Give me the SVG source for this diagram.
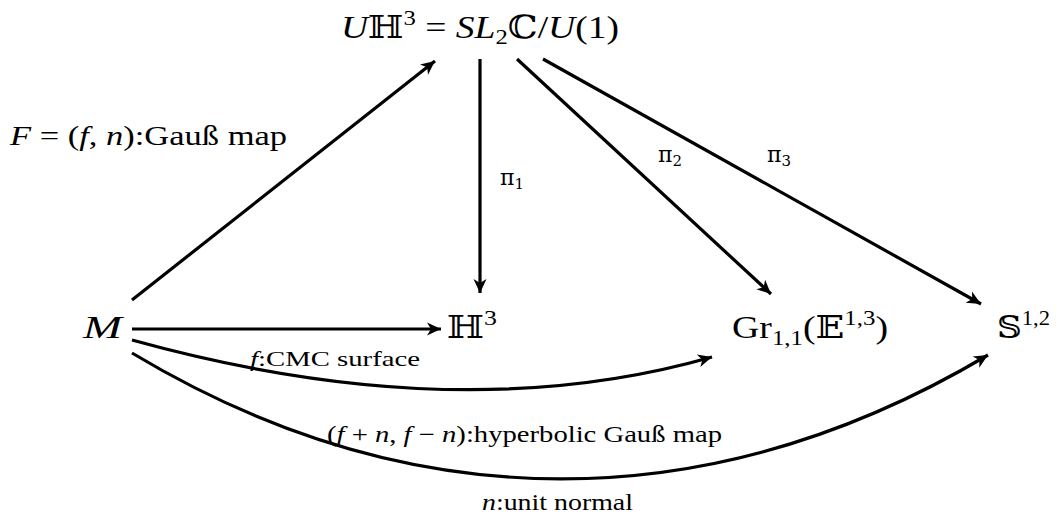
<svg xmlns="http://www.w3.org/2000/svg" width="1056" height="519" viewBox="0 0 1056 519">
<style>
text{font-family:"Liberation Serif","DejaVu Serif","DejaVu Sans",serif;fill:#000}
.it{font-style:italic}
.bb{font-family:"DejaVu Serif","DejaVu Sans",serif;font-style:normal}
.big{font-size:32px}
.pi{font-family:"DejaVu Serif",serif;font-size:22px}
.edge{fill:none;stroke:#000;stroke-width:3.2;marker-end:url(#ah)}
</style>
<defs>
<marker id="ah" markerUnits="userSpaceOnUse" markerWidth="20" markerHeight="20" refX="2" refY="0" viewBox="-14 -8 20 16" orient="auto" overflow="visible">
<path d="M2,0 L-12,-6.5 L-8,0 L-12,6.5 Z" fill="#000"/>
</marker>
</defs>
<g id="connectors">
<path class="edge" d="M132,300 L435,61"/>
<path class="edge" d="M480,59 L480,293"/>
<path class="edge" d="M517,59 L771,294"/>
<path class="edge" d="M543,59 L981,304"/>
<path class="edge" d="M132,329 L441,329"/>
<path class="edge" d="M132,340 Q457,430 712,357"/>
<path class="edge" d="M132,353 C412,521 710,520 988,355"/>
</g>
<g id="node-UH3">
<text class="big" x="341" y="38" textLength="278" lengthAdjust="spacingAndGlyphs"><tspan class="it">U</tspan><tspan class="bb">ℍ</tspan><tspan font-size="21" dy="-13">3</tspan><tspan dy="13"> = </tspan><tspan class="it">SL</tspan><tspan font-size="21" dy="6">2</tspan><tspan class="bb" dy="-6">ℂ</tspan><tspan>/</tspan><tspan class="it">U</tspan><tspan>(1)</tspan></text>
</g>
<g id="node-M">
<text class="big it" x="83" y="338" textLength="39" lengthAdjust="spacingAndGlyphs">M</text>
</g>
<g id="node-H3">
<text class="big" x="447" y="338" textLength="50" lengthAdjust="spacingAndGlyphs"><tspan class="bb">ℍ</tspan><tspan font-size="21" dy="-13">3</tspan></text>
</g>
<g id="node-Gr">
<text class="big" x="732" y="338" textLength="156" lengthAdjust="spacingAndGlyphs">Gr<tspan font-size="21" dy="7">1,1</tspan><tspan dy="-7">(</tspan><tspan class="bb">𝔼</tspan><tspan font-size="21" dy="-13">1,3</tspan><tspan dy="13">)</tspan></text>
</g>
<g id="node-S">
<text class="big" x="997" y="338" textLength="53" lengthAdjust="spacingAndGlyphs"><tspan class="bb">𝕊</tspan><tspan font-size="21" dy="-13">1,2</tspan></text>
</g>
<g id="labels">
<text x="10" y="145" style="font-size:28px" textLength="277" lengthAdjust="spacingAndGlyphs"><tspan class="it">F</tspan> = (<tspan class="it">f</tspan>, <tspan class="it">n</tspan>):Gauß map</text>
<text class="pi" x="500" y="185">π<tspan font-size="15" dy="4">1</tspan></text>
<text class="pi" x="658" y="162">π<tspan font-size="15" dy="4">2</tspan></text>
<text class="pi" x="767" y="162">π<tspan font-size="15" dy="4">3</tspan></text>
<text x="250" y="366" style="font-size:21px" textLength="170" lengthAdjust="spacingAndGlyphs"><tspan class="it">f</tspan>:CMC surface</text>
<text x="327" y="442" style="font-size:23px" textLength="395" lengthAdjust="spacingAndGlyphs">(<tspan class="it">f</tspan> + <tspan class="it">n</tspan>, <tspan class="it">f</tspan> − <tspan class="it">n</tspan>):hyperbolic Gauß map</text>
<text x="482" y="510" style="font-size:23px" textLength="151" lengthAdjust="spacingAndGlyphs"><tspan class="it">n</tspan>:unit normal</text>
</g>
</svg>
